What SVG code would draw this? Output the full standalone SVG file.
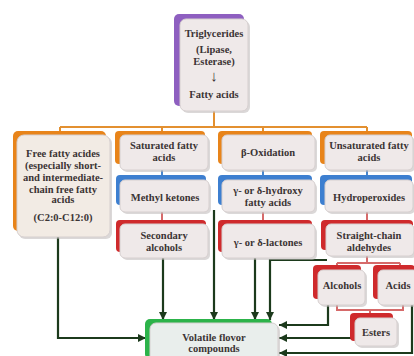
<svg xmlns="http://www.w3.org/2000/svg" width="414" height="356" viewBox="0 0 414 356">
<defs>
<style>
.t{font-family:"Liberation Serif","Times New Roman",serif;font-size:10.5px;font-weight:bold;fill:#3b3434;text-anchor:middle}
.sh{fill:#bdb8b8;opacity:.55}
.b{fill:#efe9e9;stroke:#d6cfcf;stroke-width:1}
.or{fill:#e8841a}.bl{fill:#3d7fd0}.rd{fill:#cf2a2c}.pu{fill:#8e5fc0}.gr{fill:#2cb34a}
.co{fill:none;stroke:#e39030;stroke-width:2}
.cb{fill:none;stroke:#4a86cc;stroke-width:2}
.cr{fill:none;stroke:#d66a6a;stroke-width:2}
.cg{fill:none;stroke:#1c3a1c;stroke-width:2.2}
</style>
<marker id="ah" markerUnits="userSpaceOnUse" markerWidth="8" markerHeight="8" refX="8" refY="4" orient="auto">
<path d="M0,0 L8,4 L0,8 z" fill="#1c3a1c"/>
</marker>
</defs>
<rect width="414" height="356" fill="#ffffff"/>
<g id="connectors">
<path class="co" d="M214,111 V127 M60,127 H367 M60,127 V132 M162,127 V132 M263,127 V132 M367,127 V132"/>
<path class="cb" d="M162,170 V177 M263,170 V177 M367,170 V177"/>
<path class="cr" d="M162,212 V221 M263,212 V221 M367,212 V221"/>
<path class="cr" d="M367,256 V263 M337,263 H400 M337,263 V267 M400,263 V267"/>
<path class="cr" d="M337,305 V310 H403 V305 M370,310 V314"/>
<path class="cg" d="M58,237 V338 H146" marker-end="url(#ah)"/>
<path class="cg" d="M163,258 V320" marker-end="url(#ah)"/>
<path class="cg" d="M214,210 V320" marker-end="url(#ah)"/>
<path class="cg" d="M255,258 V320" marker-end="url(#ah)"/>
<path class="cg" d="M327,260 H270 V320" marker-end="url(#ah)"/>
<path class="cg" d="M328,305 V325 H279" marker-end="url(#ah)"/>
<path class="cg" d="M355,338 H279" marker-end="url(#ah)"/>
<path class="cg" d="M412,305 V353 H279" marker-end="url(#ah)"/>
</g>
<g id="n-trig">
<rect class="sh" x="182" y="21" width="68" height="92" rx="6"/>
<rect class="pu" x="174" y="14" width="70" height="92" rx="5"/>
<rect class="b" x="180" y="19" width="68" height="92" rx="6"/>
<text class="t" x="214" y="37">Triglycerides</text>
<text class="t" x="214" y="53">(Lipase,</text>
<text class="t" x="214" y="65">Esterase)</text>
<text class="t" x="214" y="81" style="font-size:15px">↓</text>
<text class="t" x="214" y="98">Fatty acids</text>
</g>
<g id="n-ffa">
<rect class="sh" x="19" y="137" width="93" height="102" rx="6"/>
<rect class="or" x="13" y="131" width="93" height="100" rx="5"/>
<rect class="b" x="17" y="135" width="93" height="102" rx="7" style="fill:#f2ebe4"/>
<text class="t" x="63" y="156.5">Free fatty acides</text>
<text class="t" x="63" y="168.5">(especially short-</text>
<text class="t" x="63" y="180.5">and intermediate-</text>
<text class="t" x="63" y="192.5">chain free fatty</text>
<text class="t" x="63" y="203">acids</text>
<text class="t" x="63" y="220.5">(C2:0-C12:0)</text>
</g>
<g id="n-sat">
<rect class="sh" x="122" y="137" width="88" height="35" rx="5"/>
<rect class="or" x="115" y="131" width="90" height="33" rx="4"/>
<rect class="b" x="120" y="135" width="88" height="35" rx="5"/>
<text class="t" x="164" y="148.5">Saturated fatty</text>
<text class="t" x="164" y="160.5">acids</text>
</g>
<g id="n-box">
<rect class="sh" x="224" y="137" width="93" height="35" rx="5"/>
<rect class="or" x="218" y="131" width="94" height="33" rx="4"/>
<rect class="b" x="222" y="135" width="93" height="35" rx="5"/>
<text class="t" x="268" y="155.5">β-Oxidation</text>
</g>
<g id="n-unsat">
<rect class="sh" x="327" y="137" width="88" height="35" rx="5"/>
<rect class="or" x="320" y="131" width="92" height="33" rx="4"/>
<rect class="b" x="325" y="135" width="88" height="35" rx="5"/>
<text class="t" x="369" y="148.5">Unsaturated fatty</text>
<text class="t" x="369" y="160.5">acids</text>
</g>
<g id="n-methyl">
<rect class="sh" x="122" y="183" width="89" height="31" rx="5"/>
<rect class="bl" x="116" y="175" width="90" height="30" rx="4"/>
<rect class="b" x="120" y="180" width="89" height="32" rx="5"/>
<text class="t" x="165" y="200.5">Methyl ketones</text>
</g>
<g id="n-hydroxy">
<rect class="sh" x="224" y="183" width="93" height="31" rx="5"/>
<rect class="bl" x="218" y="175" width="94" height="30" rx="4"/>
<rect class="b" x="222" y="180" width="93" height="32" rx="5"/>
<text class="t" x="268" y="193.5">γ- or δ-hydroxy</text>
<text class="t" x="268" y="205.5">fatty acids</text>
</g>
<g id="n-hydroper">
<rect class="sh" x="327" y="183" width="88" height="31" rx="5"/>
<rect class="bl" x="320" y="175" width="92" height="30" rx="4"/>
<rect class="b" x="325" y="180" width="88" height="32" rx="5"/>
<text class="t" x="369" y="200.5">Hydroperoxides</text>
</g>
<g id="n-secalc">
<rect class="sh" x="122" y="227" width="88" height="33" rx="5"/>
<rect class="rd" x="116" y="220" width="90" height="32" rx="4"/>
<rect class="b" x="120" y="224" width="88" height="34" rx="5"/>
<text class="t" x="164" y="238.5">Secondary</text>
<text class="t" x="164" y="250.5">alcohols</text>
</g>
<g id="n-lact">
<rect class="sh" x="224" y="227" width="93" height="33" rx="5"/>
<rect class="rd" x="218" y="220" width="94" height="32" rx="4"/>
<rect class="b" x="222" y="224" width="93" height="34" rx="5"/>
<text class="t" x="268" y="245.5">γ- or δ-lactones</text>
</g>
<g id="n-sca">
<rect class="sh" x="329" y="227" width="88" height="31" rx="5"/>
<rect class="rd" x="321" y="220" width="92" height="30" rx="4"/>
<rect class="b" x="326" y="224" width="88" height="32" rx="5"/>
<text class="t" x="369" y="238.5">Straight-chain</text>
<text class="t" x="369" y="250.5">aldehydes</text>
</g>
<g id="n-alc">
<rect class="sh" x="320" y="272" width="47" height="35" rx="5"/>
<rect class="rd" x="313" y="265" width="48" height="34" rx="4"/>
<rect class="b" x="318" y="270" width="47" height="35" rx="5"/>
<text class="t" x="342" y="289">Alcohols</text>
</g>
<g id="n-acid">
<rect class="sh" x="380" y="272" width="40" height="35" rx="5"/>
<rect class="rd" x="373" y="265" width="42" height="34" rx="4"/>
<rect class="b" x="378" y="270" width="40" height="35" rx="5"/>
<text class="t" x="398" y="289">Acids</text>
</g>
<g id="n-esters">
<rect class="sh" x="357" y="320" width="42" height="28" rx="5"/>
<rect class="rd" x="350" y="313" width="43" height="28" rx="4"/>
<rect class="b" x="355" y="318" width="42" height="28" rx="5"/>
<text class="t" x="376" y="336">Esters</text>
</g>
<g id="n-vol">
<rect class="sh" x="152" y="325" width="128" height="40" rx="6"/>
<rect class="gr" x="145" y="319" width="127" height="40" rx="5"/>
<rect class="b" x="150" y="323" width="128" height="40" rx="6" style="fill:#e9eeec"/>
<text class="t" x="214" y="341">Volatile flovor</text>
<text class="t" x="214" y="352">compounds</text>
</g>
</svg>
